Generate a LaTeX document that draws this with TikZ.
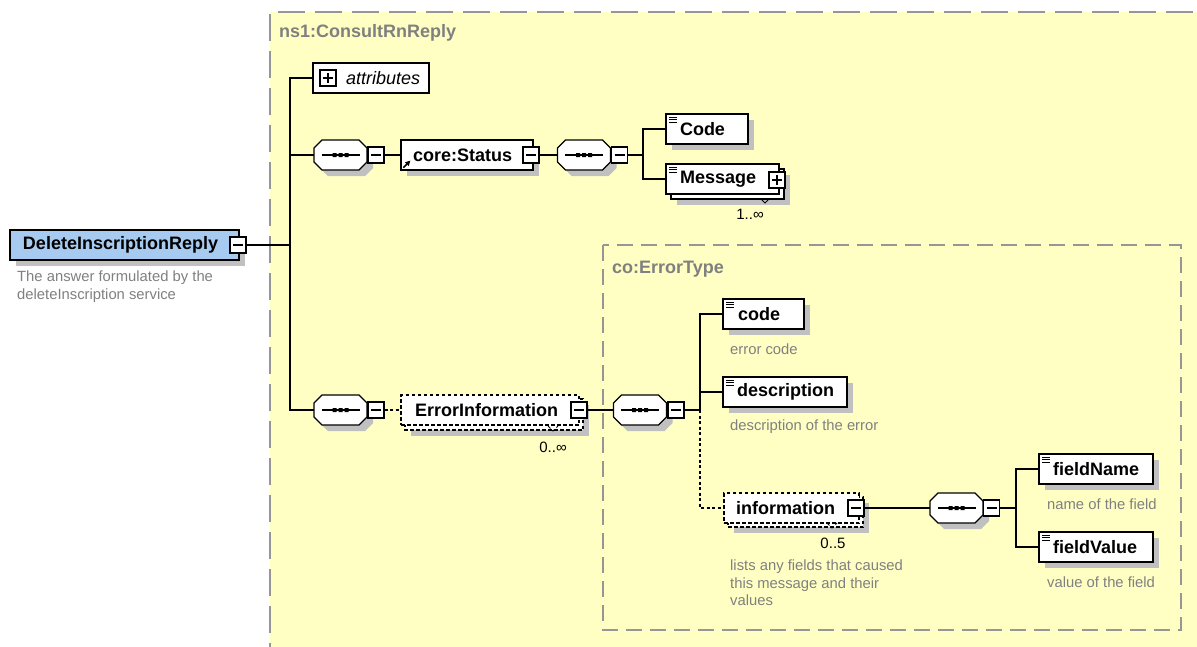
\documentclass[tikz,border=0pt]{standalone}
\usepackage{fontspec}
\setmainfont{Liberation Sans}
\usetikzlibrary{shadows,arrows.meta,calc}
\definecolor{ybg}{RGB}{255,255,196}
\definecolor{framec}{RGB}{150,150,150}
\definecolor{blueel}{RGB}{166,202,240}
\definecolor{shadowc}{RGB}{192,192,192}
\definecolor{annotc}{RGB}{128,128,128}
\newcommand\bname{\fontsize{18}{21}\selectfont\bfseries}
\newcommand\gtext{\fontsize{14.8}{17.5}\selectfont}
\newcommand\lbox[3]{\makebox[#1][l]{\hspace{#2}#3}}
\newcommand\seqshape[1]{%
  \fill[shadowc, shift={(#1.center)}, xshift=6pt, yshift=-6pt] (-26.5,-7) -- (-18.5,-15) -- (18.5,-15) -- (26.5,-7) -- (26.5,7) -- (18.5,15) -- (-18.5,15) -- (-26.5,7) -- cycle;
  \draw[line width=1.3pt, fill=white, shift={(#1.center)}] (-26.5,-7) -- (-18.5,-15) -- (18.5,-15) -- (26.5,-7) -- (26.5,7) -- (18.5,15) -- (-18.5,15) -- (-26.5,7) -- cycle;
  \draw[line width=1.2pt, shift={(#1.center)}] (-19,0) -- (19,0);
  \fill[shift={(#1.center)}] (-8,-2) rectangle (-4,2) (-2,-2) rectangle (2,2) (4,-2) rectangle (8,2);
}
\tikzset{
  conn/.style={line width=1.3pt, draw=black},
  dconn/.style={conn, dash pattern=on 3pt off 2.5pt},
  elembox/.style={draw=black, line width=1.3pt, fill=white, inner sep=0pt, minimum height=30pt, font=\bname},
  dashedel/.style={dash pattern=on 3.5pt off 2.5pt},
  shad/.style={drop shadow={shadow xshift=6pt, shadow yshift=-6pt, fill=shadowc, opacity=1}},
  icon/.style={path picture={\draw[line width=0.9pt]
      ([shift={(3pt,-3pt)}]path picture bounding box.north west) -- ++(8pt,0pt)
      ([shift={(3pt,-5.5pt)}]path picture bounding box.north west) -- ++(8pt,0pt)
      ([shift={(3pt,-8pt)}]path picture bounding box.north west) -- ++(8pt,0pt);}},
  tog/.style={draw=black, line width=1.2pt, fill=white, minimum width=16pt, minimum height=16pt, inner sep=0pt},
  togminus/.style={tog, path picture={\draw[line width=1.2pt] ([xshift=3pt]path picture bounding box.west) -- ([xshift=-3pt]path picture bounding box.east);}},
  togplus/.style={tog, path picture={\draw[line width=1.2pt] ([xshift=3pt]path picture bounding box.west) -- ([xshift=-3pt]path picture bounding box.east) ([yshift=-3pt]path picture bounding box.north) -- ([yshift=3pt]path picture bounding box.south);}},
  seqbox/.style={draw=none, minimum width=53pt, minimum height=30pt, inner sep=0pt},
  annot/.style={font=\gtext, text=annotc, anchor=west, inner sep=0pt},
  mult/.style={font=\fontsize{15}{18}\selectfont, inner sep=0pt},
  framelabel/.style={font=\bname, text=annotc, anchor=west, inner sep=0pt},
  outerframe/.style={draw=framec, line width=1.6pt, dash pattern=on 27pt off 10pt},
  innerframe/.style={draw=framec, line width=1.4pt, dash pattern=on 16pt off 8pt},
}
\begin{document}
\begin{tikzpicture}[x=1pt, y=-1pt]
\useasboundingbox (0,0) rectangle (1197,646);
\fill[white] (0,0) rectangle (1197,646);
\fill[ybg] (270,12) rectangle (1230,680);
\draw[outerframe] (1230,12) -- (270,12) -- (270,680);
\draw[innerframe] (603,245) rectangle (1181,630);
\node[framelabel] (lbl1) at (279,33) {ns1:ConsultRnReply};
\node[framelabel] (lbl2) at (612,269) {co:ErrorType};

% root element
\node[elembox, shad, fill=blueel, minimum width=229pt] (dir) at (124.5,245) {\lbox{229pt}{13pt}{DeleteInscriptionReply}};
\node[togminus] (dirtog) at (238,245) {};
\node[annot, anchor=north west, align=left] (dirdesc) at (17,271) {The answer formulated by the\\deleteInscription service};

% attributes
\node[elembox, font=\fontsize{18}{21}\selectfont\itshape, minimum width=116pt] (attr) at (371,78) {\lbox{116pt}{33pt}{attributes}};
\node[togplus] (attrtog) at (328,78) {};

% sequence 1 and core:Status
\node[seqbox] (seq1) at (340.5,155) {};
\seqshape{seq1}
\node[togminus] (seq1tog) at (376,155) {};
\node[elembox, shad, minimum width=132pt] (status) at (467,155) {\lbox{132pt}{12pt}{core:Status}};
\draw[line width=1.6pt, -{Triangle[length=5pt,width=5pt]}] ([shift={(3pt,3pt)}]status.south west) -- ++(7pt,7pt);
\node[togminus] (stattog) at (531,155) {};
\node[seqbox] (seq2) at (584,155) {};
\seqshape{seq2}
\node[togminus] (seq2tog) at (619.5,155) {};

% Code / Message
\node[elembox, shad, icon, minimum width=82pt] (code) at (707,129) {\lbox{82pt}{14pt}{Code}};
\fill[shadowc] (677,175) rectangle (790,205);
\draw[line width=1.3pt, fill=white] (671,169) rectangle (784,199);
\node[elembox, icon, minimum width=113pt] (msg) at (722.5,179) {\lbox{113pt}{14pt}{Message}};
\node[togplus] (msgtog) at (777,180) {};
\draw[line width=0.8pt] (761,199) -- (765,203) -- (769,199);
\node[mult] (msgmult) at (750,214) {1..∞};

% sequence 3 and ErrorInformation
\node[seqbox] (seq3) at (340.5,410) {};
\seqshape{seq3}
\node[togminus] (seq3tog) at (376,410) {};
\fill[shadowc] (411,405) rectangle (589,436);
\draw[line width=1.3pt, fill=white, dashedel] (405,399) rectangle (583,430);
\node[elembox, dashedel, minimum width=178pt] (ei) at (490,410) {\lbox{178pt}{14pt}{ErrorInformation}};
\node[togminus] (eitog) at (579,410) {};
\draw[line width=0.8pt, dashedel] (548,426) -- (553,431) -- (558,426);
\node[mult] (eimult) at (553,447) {0..∞};

% sequence 4 and children
\node[seqbox] (seq4) at (640,410) {};
\seqshape{seq4}
\node[togminus] (seq4tog) at (676,410) {};
\node[elembox, shad, icon, minimum width=81pt] (ecode) at (763.5,314) {\lbox{81pt}{15pt}{code}};
\node[annot] (ecodedesc) at (730,349) {error code};
\node[elembox, shad, icon, minimum width=124pt] (edesc) at (785,392) {\lbox{124pt}{14pt}{description}};
\node[annot] (edescdesc) at (730,427) {description of the error};
\fill[shadowc] (734,503) rectangle (869,533);
\draw[line width=1.3pt, fill=white, dashedel] (728,497) rectangle (863,527);
\node[elembox, dashedel, minimum width=135pt] (info) at (791.5,508) {\lbox{135pt}{12pt}{information}};
\node[togminus] (infotog) at (856,508) {};
\draw[line width=0.8pt, dashedel] (827,523) -- (832,528) -- (837,523);
\node[mult] (infomult) at (833,543) {0..5};
\node[annot, anchor=north west, align=left] (infodesc) at (730,560) {lists any fields that caused\\this message and their\\values};

% sequence 5 and fields
\node[seqbox] (seq5) at (956.5,508) {};
\seqshape{seq5}
\node[togminus] (seq5tog) at (991.5,508) {};
\node[elembox, shad, icon, minimum width=114pt] (fname) at (1096,469) {\lbox{114pt}{14pt}{fieldName}};
\node[annot] (fnamedesc) at (1047,504) {name of the field};
\node[elembox, shad, icon, minimum width=114pt] (fvalue) at (1096,547) {\lbox{114pt}{14pt}{fieldValue}};
\node[annot] (fvaluedesc) at (1047,582) {value of the field};

% connectors
\coordinate (tr) at (290,245);
\draw[conn] (dirtog.east) -- (tr);
\draw[conn] (tr) |- (attr.west);
\draw[conn] (tr) |- (seq1.west);
\draw[conn] (tr) |- (seq3.west);
\draw[conn] (seq1tog.east) -- (status.west);
\draw[conn] (stattog.east) -- (seq2.west);
\coordinate (b2) at (643,155);
\draw[conn] (seq2tog.east) -- (b2);
\draw[conn] (b2) |- (code.west);
\draw[conn] (b2) |- (msg.west);
\draw[dconn] (seq3tog.east) -- (ei.west);
\draw[conn] (eitog.east) -- (seq4.west);
\coordinate (b4) at (700,410);
\draw[conn] (seq4tog.east) -- (b4);
\draw[conn] (b4) |- (ecode.west);
\draw[conn] (b4) |- (edesc.west);
\draw[dconn] (b4) |- (info.west);
\draw[conn] (infotog.east) -- (seq5.west);
\coordinate (b5) at (1016,508);
\draw[conn] (seq5tog.east) -- (b5);
\draw[conn] (b5) |- (fname.west);
\draw[conn] (b5) |- (fvalue.west);
\end{tikzpicture}
\end{document}
